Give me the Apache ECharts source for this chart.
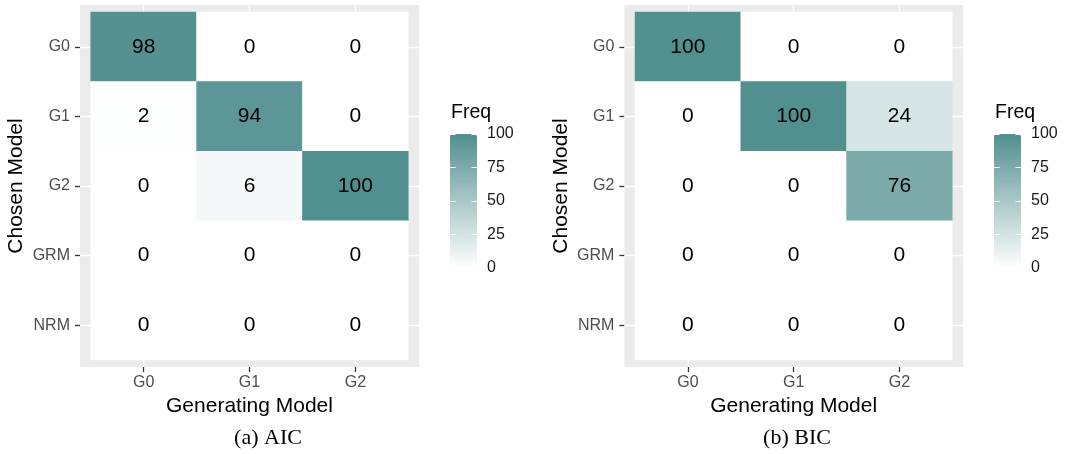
<!DOCTYPE html>
<html><head><meta charset="utf-8">
<script src="https://cdn.jsdelivr.net/npm/echarts@6/dist/echarts.min.js"></script>
<style>html,body{margin:0;padding:0;background:#fff}#chart{width:1066px;height:454px}</style>
</head><body><div id="chart"></div>
<script>
// ---- data ----
const generatingModels = ['G0', 'G1', 'G2'];
const chosenModels = ['G0', 'G1', 'G2', 'GRM', 'NRM'];
// rows = chosen model, columns = generating model
const aicFreq = [[98, 0, 0], [2, 94, 0], [0, 6, 100], [0, 0, 0], [0, 0, 0]];
const bicFreq = [[100, 0, 0], [0, 100, 24], [0, 0, 76], [0, 0, 0], [0, 0, 0]];
const legendTicks = [0, 25, 50, 75, 100];
const captions = ['(a) AIC', '(b) BIC'];
const legendTitle = 'Freq';
const xTitle = 'Generating Model';
const yTitle = 'Chosen Model';

// ---- layout ----
const panels = [
  { bgLeft: 80, bgWidth: 339, dataLeft: 90.7, dataWidth: 317.6, legendLeft: 450, captionX: 268, values: aicFreq, caption: captions[0] },
  { bgLeft: 624.4, bgWidth: 338.6, dataLeft: 635, dataWidth: 317.3, legendLeft: 994, captionX: 797, values: bicFreq, caption: captions[1] }
];
const bgTop = 5, bgHeight = 362, dataTop = 12, dataHeight = 348;
const legTop = 134, legHeight = 134, legWidth = 27;
const fill = ['#FFFFFF', '#528F8F'];
const FONT = 'Liberation Sans';

const grid = [], xAxis = [], yAxis = [], series = [], visualMap = [], title = [];

panels.forEach((p, pi) => {
  // background panel grid (value axes for gridlines at category centres)
  const gBg = grid.length;
  grid.push({ left: p.bgLeft, top: bgTop, width: p.bgWidth, height: bgHeight, show: true, backgroundColor: '#EBEBEB', borderWidth: 0 });
  const xBg = xAxis.length;
  xAxis.push({ type: 'value', gridIndex: gBg, min: -0.6, max: generatingModels.length - 0.4, show: false });
  const yBg = yAxis.length;
  yAxis.push({ type: 'value', gridIndex: gBg, min: -0.6, max: chosenModels.length - 0.4, inverse: true, show: false });
  series.push({
    type: 'scatter', xAxisIndex: xBg, yAxisIndex: yBg, data: [], z: 1, silent: true,
    markLine: {
      silent: true, z: 1, symbol: ['none', 'none'], label: { show: false }, animation: false,
      lineStyle: { color: '#FFFFFF', width: 1.3, type: 'solid' },
      data: [
        ...generatingModels.map((_, i) => ({ xAxis: i })),
        ...chosenModels.map((_, i) => ({ yAxis: i }))
      ]
    }
  });

  // data grid
  const gD = grid.length;
  grid.push({ left: p.dataLeft, top: dataTop, width: p.dataWidth, height: dataHeight, show: false });
  const xD = xAxis.length;
  xAxis.push({
    type: 'category', gridIndex: gD, data: generatingModels, position: 'bottom', offset: bgTop + bgHeight - dataTop - dataHeight,
    axisLine: { show: false },
    axisTick: { show: true, alignWithLabel: true, length: 5, lineStyle: { color: '#333333', width: 1.3 } },
    axisLabel: { color: '#4D4D4D', fontSize: 16, margin: 8, fontFamily: FONT },
    splitLine: { show: false },
    name: xTitle, nameLocation: 'middle', nameGap: 28,
    nameTextStyle: { color: '#000000', fontSize: 21, fontFamily: FONT }
  });
  const yD = yAxis.length;
  yAxis.push({
    type: 'category', gridIndex: gD, data: chosenModels, inverse: true, position: 'left', offset: p.dataLeft - p.bgLeft,
    axisLine: { show: false },
    axisTick: { show: true, alignWithLabel: true, length: 5, lineStyle: { color: '#333333', width: 1.3 } },
    axisLabel: { color: '#4D4D4D', fontSize: 16, margin: 10, fontFamily: FONT },
    splitLine: { show: false },
    name: yTitle, nameLocation: 'middle', nameGap: 53,
    nameTextStyle: { color: '#000000', fontSize: 21, fontFamily: FONT }
  });
  const cells = [];
  p.values.forEach((row, r) => row.forEach((v, c) => cells.push([c, r, v])));
  const heatIdx = series.length;
  series.push({
    type: 'heatmap', xAxisIndex: xD, yAxisIndex: yD, data: cells, z: 10,
    label: { show: true, color: '#000000', fontSize: 21, fontFamily: FONT, formatter: (d) => String(d.value[2]) },
    itemStyle: { borderWidth: 0 },
    emphasis: { disabled: true }
  });
  visualMap.push({
    type: 'continuous', seriesIndex: heatIdx, dimension: 2, min: 0, max: 100, calculable: false,
    left: p.legendLeft, top: legTop, itemWidth: legWidth, itemHeight: legHeight, padding: 0,
    inRange: { color: fill }, text: null, hoverLink: false
  });

  // legend axis grid
  const gL = grid.length;
  grid.push({ left: p.legendLeft, top: legTop, width: legWidth, height: legHeight, show: false });
  xAxis.push({ type: 'value', gridIndex: gL, show: false, min: 0, max: 1 });
  const tickCommon = { show: true, inside: true, length: 5.5, lineStyle: { color: '#FFFFFF', width: 1 } };
  yAxis.push({
    type: 'value', gridIndex: gL, position: 'left', min: legendTicks[0], max: legendTicks[legendTicks.length - 1],
    interval: legendTicks[1] - legendTicks[0], z: 20,
    axisLine: { show: false }, splitLine: { show: false }, axisLabel: { show: false }, axisTick: tickCommon
  });
  yAxis.push({
    type: 'value', gridIndex: gL, position: 'right', min: legendTicks[0], max: legendTicks[legendTicks.length - 1],
    interval: legendTicks[1] - legendTicks[0], z: 20,
    axisLine: { show: false }, splitLine: { show: false }, axisTick: tickCommon,
    axisLabel: { show: true, color: '#1A1A1A', fontSize: 16, margin: 10, fontFamily: FONT }
  });

  title.push({
    text: legendTitle, left: p.legendLeft + 1, top: 103, padding: 0,
    textStyle: { fontSize: 19.5, fontWeight: 'normal', color: '#000000', fontFamily: FONT }
  });
  title.push({
    text: p.caption, left: p.captionX, top: 427, padding: 0, textAlign: 'center',
    textStyle: { fontSize: 22, fontWeight: 'normal', color: '#000000', fontFamily: 'Liberation Serif' }
  });
});

const chart = echarts.init(document.getElementById('chart'), null, { renderer: 'canvas' });
chart.setOption({
  animation: false,
  backgroundColor: '#FFFFFF',
  textStyle: { fontFamily: FONT },
  title, grid, xAxis, yAxis, visualMap, series
});
</script>
</body></html>
